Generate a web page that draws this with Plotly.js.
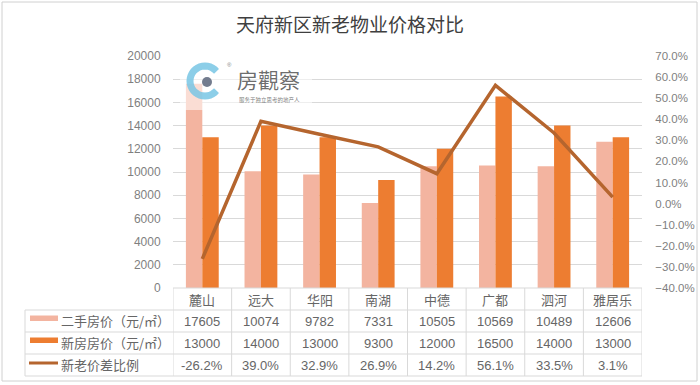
<!DOCTYPE html>
<html>
<head>
<meta charset="utf-8">
<script src="https://cdn.plot.ly/plotly-3.0.1.min.js"></script>
<style>html,body{margin:0;padding:0;background:#fff}#chart{width:700px;height:385px}</style>
</head>
<body>
<div id="chart"></div>
<script>
const categories = ['麓山','远大','华阳','南湖','中德','广都','泗河','雅居乐'];
const resalePrice = [17605,10074,9782,7331,10505,10569,10489,12606];
const newPrice = [13000,14000,13000,9300,12000,16500,14000,13000];
const premiumPct = [-26.2,39.0,32.9,26.9,14.2,56.1,33.5,3.1];
const seriesNames = ['二手房价（元/㎡）','新房房价（元/㎡）','新老价差比例'];
const chartTitle = '天府新区新老物业价格对比';
const logoText = '房觀察';
const logoSub = '服务于独立思考的地产人';

const colPink = '#F3B4A0', colOrange = '#ED7D31', colBrown = '#B5652E';
const txt = '#666666', gridC = '#D9D9D9';
const FONT = 'Liberation Sans, Noto Sans CJK SC, sans-serif';
const CJK = 'Noto Sans CJK SC, sans-serif';

// layout helpers (pixel -> paper)
const L = 173, R = 642, T = 56, B = 288, W = R - L, H = B - T;
const px = v => (v - L) / W;
const py = v => (B - v) / H;

const traces = [
  {type:'bar', x:categories, y:resalePrice, name:seriesNames[0], marker:{color:colPink}},
  {type:'bar', x:categories, y:newPrice, name:seriesNames[1], marker:{color:colOrange}},
  {type:'scatter', mode:'lines', x:categories, y:premiumPct, name:seriesNames[2], yaxis:'y2',
   line:{color:colBrown, width:3.5}}
];

const shapes = [];
const annotations = [];
const rowY = [288, 310, 332, 354, 376];
// horizontal table lines
shapes.push({type:'line', xref:'paper', yref:'paper', x0:0, x1:1, y0:py(288), y1:py(288), line:{color:gridC, width:1}});
for (let i = 1; i < rowY.length; i++) {
  shapes.push({type:'line', xref:'paper', yref:'paper', x0:px(25), x1:1, y0:py(rowY[i]), y1:py(rowY[i]), line:{color:gridC, width:1}});
}
// vertical table lines
shapes.push({type:'line', xref:'paper', yref:'paper', x0:px(25), x1:px(25), y0:py(310), y1:py(376), line:{color:gridC, width:1}});
for (let i = 0; i <= categories.length; i++) {
  shapes.push({type:'line', xref:'x', yref:'paper', x0:i-0.5, x1:i-0.5, y0:py(288), y1:py(376), line:{color:gridC, width:1}});
}
// legend swatches
shapes.push({type:'rect', xref:'paper', yref:'paper', x0:px(30), x1:px(58), y0:py(315.5), y1:py(321), fillcolor:colPink, line:{width:0}});
shapes.push({type:'rect', xref:'paper', yref:'paper', x0:px(30), x1:px(58), y0:py(337.5), y1:py(343), fillcolor:colOrange, line:{width:0}});
shapes.push({type:'line', xref:'paper', yref:'paper', x0:px(29), x1:px(58), y0:py(363), y1:py(363), line:{color:colBrown, width:3}});
// outer border
shapes.push({type:'rect', xref:'paper', yref:'paper', x0:px(2), x1:px(697), y0:py(2), y1:py(381), line:{color:'#D0D0D0', width:1}, fillcolor:'rgba(0,0,0,0)'});

// watermark: translucent white box + C ring + dot
shapes.push({type:'rect', xref:'paper', yref:'paper', x0:px(180), x1:px(312), y0:py(60), y1:py(110), fillcolor:'rgba(255,255,255,0.55)', line:{width:0}, layer:'above'});
let arc = '';
for (let a = 40; a <= 320; a += 10) {
  const r = a * Math.PI / 180;
  arc += (a === 40 ? 'M' : 'L') + (15 * Math.cos(r)).toFixed(2) + ',' + (15 * Math.sin(r)).toFixed(2) + ' ';
}
shapes.push({type:'path', xref:'paper', yref:'paper', xsizemode:'pixel', ysizemode:'pixel', xanchor:px(205), yanchor:py(81), path:arc, line:{color:'rgba(120,198,228,0.85)', width:7}, layer:'above'});
shapes.push({type:'circle', xref:'paper', yref:'paper', xsizemode:'pixel', ysizemode:'pixel', xanchor:px(207), yanchor:py(82), x0:-5, x1:5, y0:-5, y1:5, fillcolor:'rgba(100,110,130,0.9)', line:{width:0}, layer:'above'});

// watermark text
annotations.push({xref:'paper', yref:'paper', x:px(236), y:py(79), xanchor:'left', yanchor:'middle', text:logoText, showarrow:false, borderpad:0, font:{family:CJK, size:21, color:'rgba(90,90,90,0.9)'}});
annotations.push({xref:'paper', yref:'paper', x:px(238), y:py(100), xanchor:'left', yanchor:'middle', text:logoSub, showarrow:false, borderpad:0, font:{family:CJK, size:5.5, color:'rgba(110,110,110,0.9)'}});
annotations.push({xref:'paper', yref:'paper', x:px(229), y:py(65), xanchor:'center', yanchor:'middle', text:'®', showarrow:false, borderpad:0, font:{family:FONT, size:6, color:'rgba(110,110,110,0.9)'}});

// table contents
const rowsText = [
  resalePrice.map(v => String(v)),
  newPrice.map(v => String(v)),
  premiumPct.map(v => v.toFixed(1) + '%')
];
categories.forEach((c, i) => {
  annotations.push({xref:'x', yref:'paper', x:c, y:py(299), text:c, showarrow:false, xanchor:'center', yanchor:'middle', font:{family:CJK, size:13, color:txt}});
  rowsText.forEach((row, r) => {
    annotations.push({xref:'x', yref:'paper', x:c, y:py(321 + 22 * r), text:row[i], showarrow:false, xanchor:'center', yanchor:'middle', font:{family:FONT, size:13, color:txt}});
  });
});
seriesNames.forEach((n, r) => {
  annotations.push({xref:'paper', yref:'paper', x:px(59), y:py(320 + 22 * r), text:n, showarrow:false, xanchor:'left', yanchor:'middle', font:{family:CJK, size:13, color:txt}});
});

const layout = {
  width:700, height:385,
  margin:{l:L, r:700-R, t:T, b:385-B, pad:0},
  paper_bgcolor:'#fff', plot_bgcolor:'#fff',
  font:{family:FONT, color:'#7F7F7F'},
  title:{text:chartTitle, x:0.5, xanchor:'center', y:1-25/385, yanchor:'middle', font:{family:CJK, size:19, color:'#3F3F3F'}},
  showlegend:false,
  barmode:'group', bargap:0.44, bargroupgap:0,
  xaxis:{type:'category', range:[-0.5, categories.length - 0.5], showticklabels:false, showgrid:false, zeroline:false, showline:false, ticks:''},
  yaxis:{range:[0,20000], dtick:2000, tick0:0, tickformat:'d', showgrid:true, gridcolor:gridC, gridwidth:1, zeroline:false, showline:false,
         ticks:'outside', ticklen:9, tickcolor:'rgba(0,0,0,0)', tickfont:{family:FONT, size:12, color:'#7F7F7F'}},
  yaxis2:{overlaying:'y', side:'right', range:[-40,70], dtick:10, tick0:0, tickformat:'.1f', ticksuffix:'%',
          showgrid:false, zeroline:false, showline:false, ticks:'outside', ticklen:10, tickcolor:'rgba(0,0,0,0)',
          tickfont:{family:FONT, size:11.5, color:'#7F7F7F'}},
  shapes:shapes,
  annotations:annotations
};

Plotly.newPlot('chart', traces, layout, {staticPlot:true, displayModeBar:false});
</script>
</body>
</html>
